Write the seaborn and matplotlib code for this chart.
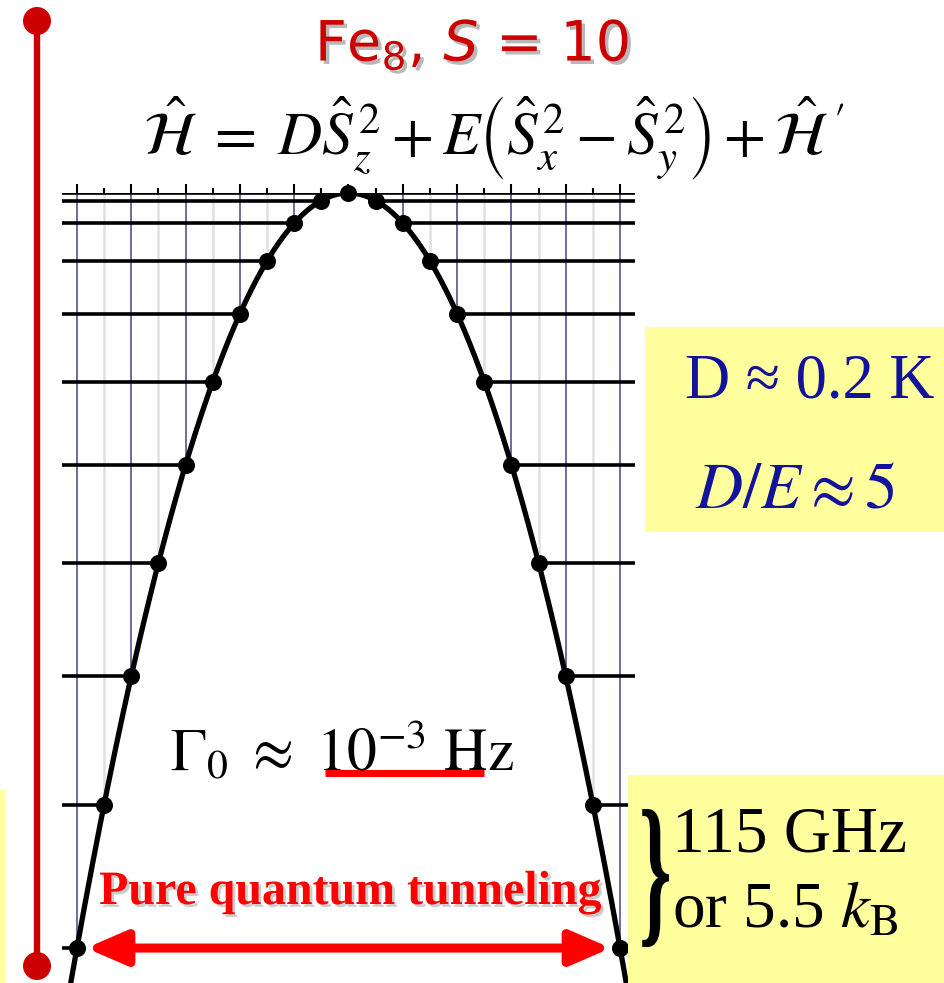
import numpy as np
import pandas as pd
import matplotlib
matplotlib.use("Agg")
import matplotlib.pyplot as plt
import matplotlib.patheffects as pe
from matplotlib.patches import Rectangle, Ellipse, PathPatch
from matplotlib.textpath import TextPath
from matplotlib.path import Path
from matplotlib.font_manager import FontProperties
import seaborn as sns

# Spin projections m = -10 ... 10 of the S = 10 ground multiplet
m_values = list(range(-10, 11))
# Zero-field level energies E_m (K), |m| = 0 ... 10; the 10 -> 9 gap is 5.5 K (115 GHz)
level_energy = [0.0, -0.29, -1.16, -2.61, -4.63, -7.24, -10.42, -14.18, -18.53, -23.45, -28.95]

title_text = "Fe$_8$, $S$ = 10"
hamiltonian = (r"$\hat{\mathcal{H}}\;=\;D\hat{S}_z^{\,2} + E\left(\hat{S}_x^{\,2} - \hat{S}_y^{\,2}\right)"
               r" + \hat{\mathcal{H}}\,'$")
param_lines = ["D \u2248 0.2 K", r"$D/E \approx 5$"]
gap_lines = ["115 GHz", r"or 5.5 $k_\mathrm{B}$"]
rate_text = r"$\Gamma_0\ \approx\ \mathrm{10^{-3}\ Hz}$"
tunnel_text = "Pure quantum tunneling"

sns.set_style("white")
plt.rcParams["font.family"] = ["Liberation Serif", "DejaVu Serif"]
plt.rcParams["mathtext.fontset"] = "stix"

df = pd.DataFrame({"m": m_values,
                   "E": [level_energy[abs(k)] for k in m_values]})

# smooth anisotropy barrier fitted through the levels
coef = np.polyfit(df["m"], df["E"], 2)
m_fine = np.linspace(-10.3, 10.3, 600)
curve = pd.DataFrame({"m": m_fine, "E": np.polyval(coef, m_fine)})

W, H = 945, 983
fig = plt.figure(figsize=(W / 100, H / 100), dpi=100)
fig.patch.set_facecolor("white")

# ---- level diagram -------------------------------------------------------
ax = fig.add_axes([62 / W, 0, 573 / W, 790 / H])
xlo, xhi = -10.55, 10.55
ylo = -30.29
ax.set_xlim(xlo, xhi)
ax.set_ylim(ylo, 0)
for s in ax.spines.values():
    s.set_visible(False)
ax.set_yticks([])
ax.xaxis.tick_top()
ax.set_xticks([k for k in m_values if k % 2 == 0])
ax.set_xticks([k for k in m_values if k % 2], minor=True)
ax.set_xticklabels([])
ax.tick_params(axis="x", which="major", length=6.5, width=1.5, color="black", direction="out", top=True)
ax.tick_params(axis="x", which="minor", length=3.5, width=1.5, color="black", direction="out", top=True)

# vertical grid: dark at even m, faint at odd m
for k in m_values:
    if k % 2 == 0:
        ax.axvline(k, color="#55558f", lw=1.2, zorder=1)
    else:
        ax.axvline(k, color="#e0e0e0", lw=1.8, zorder=1)

# horizontal level lines
for e in level_energy:
    ax.axhline(e, color="black", lw=2.6, zorder=2)

# inside of the barrier is blank
ax.fill_between(curve["m"], curve["E"], ylo, color="white", zorder=3, lw=0)

sns.lineplot(data=curve, x="m", y="E", ax=ax, color="black", lw=3.8,
             zorder=4, sort=False, estimator=None)
sns.scatterplot(data=df, x="m", y="E", ax=ax, color="black", s=150,
                edgecolor="black", linewidth=0, zorder=5, clip_on=False)
ax.set_xlabel("")
ax.set_ylabel("")

# tunneling arrow between m = -10 and m = +10
ax.annotate("", xy=(9.66, level_energy[10]), xytext=(-9.66, level_energy[10]),
            arrowprops=dict(arrowstyle="<|-|>,head_length=1.2,head_width=0.52",
                            lw=6.5, color="#ff0000", shrinkA=0, shrinkB=0,
                            mutation_scale=20),
            zorder=6, annotation_clip=False)

# ---- overlay in pixel units ---------------------------------------------
ov = fig.add_axes([0, 0, 1, 1], zorder=10)
ov.set_xlim(0, W)
ov.set_ylim(H, 0)
ov.axis("off")
ov.patch.set_alpha(0)

yellow = "#ffff9e"
ov.add_patch(Rectangle((645, 327), 300, 205, color=yellow, lw=0))
ov.add_patch(Rectangle((628, 775), 317, 208, color=yellow, lw=0))
ov.add_patch(Rectangle((0, 790), 5, 193, color=yellow, lw=0))

# energy scale bar on the left
ov.plot([37, 37], [21, 966], color="#cc0000", lw=4.6, solid_capstyle="butt")
ov.add_patch(Ellipse((37, 21), 28, 28, color="#cc0000", lw=0))
ov.add_patch(Ellipse((37, 966), 28, 28, color="#cc0000", lw=0))

shadow = [pe.SimplePatchShadow(offset=(2.5, -2.5), shadow_rgbFace="#9a9a9a", alpha=0.7), pe.Normal()]
ov.text(472, 46, title_text, ha="center", va="center", fontsize=40, color="#cc0000",
        family="DejaVu Sans", math_fontfamily="dejavusans", path_effects=shadow)
ov.text(494, 138, hamiltonian, ha="center", va="center", fontsize=44, color="black")

blue = "#12129a"
ov.text(810, 383, param_lines[0], ha="center", va="center", fontsize=45, color=blue)
ov.text(795, 492, param_lines[1], ha="center", va="center", fontsize=47, color=blue)

ov.text(672, 836, gap_lines[0], ha="left", va="center", fontsize=47, color="black")
ov.text(672, 912, gap_lines[1], ha="left", va="center", fontsize=47, color="black")

# curly brace spanning the two lowest levels
tp = TextPath((0, 0), "}", size=100, prop=FontProperties(family="Liberation Serif", weight="bold"))
v = tp.vertices.copy()
x0, x1 = v[:, 0].min(), v[:, 0].max()
y0, y1 = v[:, 1].min(), v[:, 1].max()
v[:, 0] = 639 + (v[:, 0] - x0) * 30 / (x1 - x0)
v[:, 1] = 947 - (v[:, 1] - y0) * 138 / (y1 - y0)
ov.add_patch(PathPatch(Path(v, tp.codes), color="black", lw=0))

ov.text(170, 752, rate_text, ha="left", va="center", fontsize=43, color="black")
ov.plot([325, 484], [773, 773], color="#ff0000", lw=5.0, solid_capstyle="butt")

ov.text(350, 892, tunnel_text, ha="center", va="center", fontsize=34.5, color="#ff0000",
        fontweight="bold", path_effects=[pe.SimplePatchShadow(offset=(2, -2), shadow_rgbFace="#aaaaaa", alpha=0.6), pe.Normal()])

fig.savefig("out.png", dpi=100)
